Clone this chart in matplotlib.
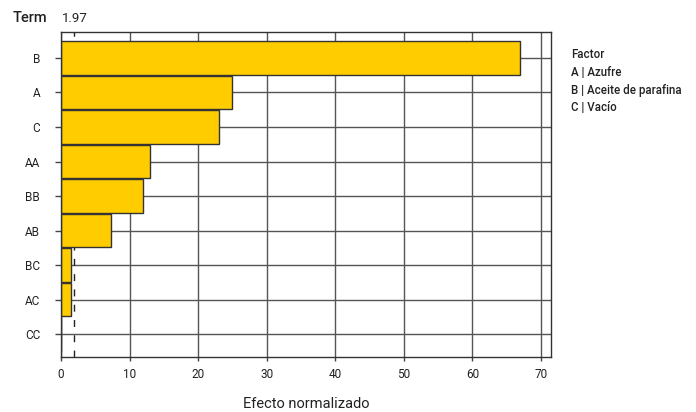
"""
Pareto chart of normalized effects for the sulfur / paraffin oil / vacuum design
"""

import matplotlib.pyplot as plt

plt.rcParams["font.family"] = ["Roboto", "DejaVu Sans"]

terms   = ["B", "A", "C", "AA", "BB", "AB", "BC", "AC", "CC"]
effects = [67.0, 25.0, 23.0, 13.0, 12.0, 7.3, 1.45, 1.45, 0.0]
ref_value = 1.97
xticks = [0, 10, 20, 30, 40, 50, 60, 70]
factor_labels = ["A | Azufre", "B | Aceite de parafina", "C | Vacío"]

fig = plt.figure(figsize=(6.96, 4.12), dpi=100)
ax = fig.add_axes([0.0876, 0.1335, 0.7035, 0.7888])

ypos = list(range(len(terms)))

# grid and reference line go under the bars
for x in xticks:
    ax.axvline(x, color="#555555", lw=1.0, zorder=1)
for y in ypos:
    ax.axhline(y, color="#555555", lw=1.0, zorder=1)
ax.axvline(ref_value, color="#222222", lw=1.0, ls=(0, (5, 6)), zorder=1.5)

ax.barh(ypos, effects, height=0.97, color="#FFCC00", edgecolor="#333333",
        linewidth=1.0, zorder=2)

ax.set_xlim(0, 71.4)
ax.set_ylim(8.66, -0.75)
ax.set_yticks(ypos)
ax.set_yticklabels(terms, fontsize=8.5, color="#222222")
ax.set_xticks(xticks)
ax.set_xticklabels([str(x) for x in xticks], fontsize=8.5, color="#222222")
ax.tick_params(axis="y", length=4, width=1, color="#444444", pad=11)
ax.tick_params(axis="x", length=3, width=1, color="#444444", pad=5)
for sp in ax.spines.values():
    sp.set_color("#333333")
    sp.set_linewidth(1.0)

fig.text(0.0876 + 0.7035 / 2, 1 - 404 / 412, "Efecto normalizado",
         fontsize=10.5, color="#222222", ha="center", va="center")

fig.text(13 / 696, 1 - 18 / 412, "Term", fontsize=10.5, color="#222222",
         va="center", ha="left", fontweight="medium")
fig.text(62 / 696, 1 - 18 / 412, f"{ref_value:.2f}", fontsize=9.5,
         color="#222222", va="center", ha="left")

# factor key on the right
lx = 571 / 696
fig.text(lx, 1 - 55 / 412, "Factor", fontsize=8.3, color="#222222",
         va="center", fontweight="medium")
for i, lab in enumerate(factor_labels):
    fig.text(lx, 1 - (72.5 + i * 17.7) / 412, lab, fontsize=8.3,
             color="#222222", va="center", fontweight="medium")

plt.savefig("out.png", dpi=100)
plt.close()
